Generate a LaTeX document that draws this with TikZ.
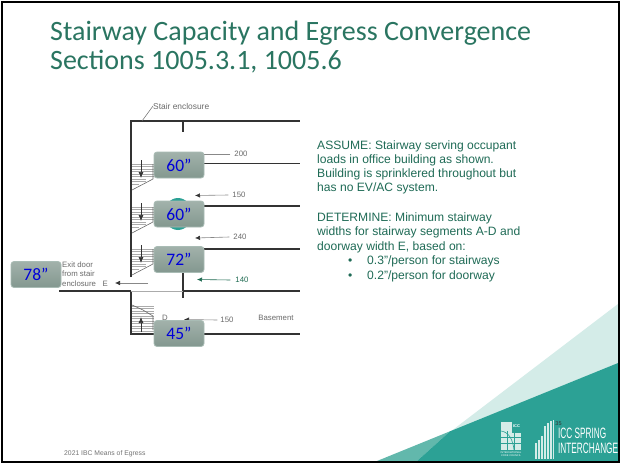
\documentclass[tikz,border=0pt]{standalone}
\usepackage{fontspec}
\setmainfont{Liberation Sans}
\newfontfamily\boxfont{Carlito}
\usetikzlibrary{arrows.meta}
\definecolor{titlegreen}{HTML}{2A7561}
\definecolor{bodygreen}{HTML}{1F6B56}
\definecolor{teal}{HTML}{2CA195}
\definecolor{midteal}{HTML}{62B8AC}
\definecolor{paleteal}{HTML}{D4ECE8}
\definecolor{boxgrey}{HTML}{83988F}
\definecolor{boxedge}{HTML}{A9BCB5}
\definecolor{wall}{HTML}{333333}
\definecolor{hatch}{HTML}{ABABAB}
\definecolor{lab}{HTML}{6A6A6A}
\definecolor{arrowgreen}{HTML}{1F6B52}
\tikzset{
  wallline/.style={draw=wall,line width=1.8pt},
  flowarrow/.style={draw=lab!80,line width=.6pt,-{Latex[length=5pt,width=4.5pt,color=wall]}},
  dimlabel/.style={font=\fontsize{7.8}{9}\selectfont,text=lab,inner sep=0pt},
  sizebox/.style={draw=boxedge,line width=.8pt,rounded corners=3pt,minimum width=50pt,minimum height=26pt,inner sep=0pt,
     top color=boxgrey!75!white,bottom color=boxgrey,text=blue!85!black,font=\boxfont\fontsize{17.5}{18}\selectfont},
  bodytext/.style={font=\fontsize{12.1}{14}\selectfont,text=bodygreen,inner sep=0pt,anchor=base west},
  titletext/.style={font=\boxfont\fontsize{28}{30}\selectfont,text=titlegreen,inner sep=0pt,anchor=base west},
  logotext/.style={text=white,inner sep=0pt,anchor=base west},
}
\newcommand{\stairdown}[1]{%
  \begin{scope}[yshift=-#1pt]
  \foreach \yy in {164,166.5,169,171.5,174,176.5,179,181.5,184}{
    \draw[hatch,line width=.5pt] (132,\yy) -- ({\yy<179?154:(\yy<182?146:139)},\yy);}
  \draw[lab,line width=.6pt] (132,190) -- (153,179) -- (153,164);
  \draw[wall,line width=.7pt,-{Latex[length=6pt,width=5pt]}] (141,160) -- (141,178);
  \end{scope}}
\begin{document}
\begin{tikzpicture}[x=1pt,y=-1pt]
\useasboundingbox (0,0) rectangle (621,466);
\fill[white] (0,0) rectangle (621,466);
% background wedges
\fill[paleteal] (450,432) -- (618,304) -- (618,363) -- cycle;
\fill[midteal] (377,461) -- (450,431.3) -- (417,461) -- cycle;
\fill[teal] (417,461) -- (450,431.3) -- (618,363) -- (618,461) -- cycle;
% frame
\draw[black,line width=2pt] (2,2) rectangle (619,462);
% title
\node[titletext] (t1) at (50,40) {Stairway Capacity and Egress Convergence};
\node[titletext] (t2) at (50,69) {Sections 1005.3.1, 1005.6};
% walls
\coordinate (wa) at (131,277); \coordinate (wb) at (131,121); \coordinate (wc) at (300,121);
\draw[wallline] (wa) -- (wb) -- (wc);
\coordinate (s1) at (183,121); \coordinate (s2) at (183,132);
\draw[wallline] (s1) -- (s2);
\draw[wallline] (204,163.5) -- (300,163.5);
\draw[wallline] (204,206) -- (300,206);
\draw[wallline] (204,249) -- (300,249);
\draw[wallline] (183,270) -- (183,298);
\draw[wallline] (183,291) -- (300,291);
\draw[wallline] (59,291) -- (131,291);
\draw[wallline] (131,291) -- (131,334) -- (154,334);
\draw[wallline] (204,334) -- (300,334);
\draw[draw=white,line width=2pt] (132,291) -- (182,291);
\draw[hatch,line width=.8pt] (131,291) -- (183,291);
% stairs
\stairdown{0}
\stairdown{43}
\stairdown{85}
\foreach \yy in {306,308.5,311,313.5,316,318.5,321,323.5,326,328.5,331}{\draw[hatch,line width=.5pt] (132,\yy) -- (154,\yy);}
\draw[lab,line width=.6pt] (132,305) -- (143,310) -- (153,316) -- (153,330);
\draw[wall,line width=.7pt,-{Latex[length=6pt,width=5pt]}] (141,332) -- (141,317);
% leader
\coordinate (la) at (142,121);
\node[dimlabel,anchor=west,font=\fontsize{8.4}{9}\selectfont] (senc) at (153,106) {Stair enclosure};
\draw[lab,line width=.5pt] (la) -- (senc.west);
% dimension arrows
\node[dimlabel] (n200) at (241,154) {200};
\node[dimlabel] (n150a) at (239,195) {150};
\node[dimlabel] (n240) at (240,237) {240};
\node[dimlabel,text=arrowgreen] (n140) at (242,280) {140};
\node[dimlabel] (n150b) at (227,320) {150};
\node[dimlabel] (nbase) at (276,318) {Basement};
\node[dimlabel] (nd) at (165,318) {D};
\node[dimlabel,anchor=west,align=left,font=\fontsize{7.8}{9.5}\selectfont] (nexit) at (62,274) {Exit door\\from stair\\enclosure\ \ \ E};
\coordinate (a200) at (200,154);
\coordinate (a150) at (195,195.5);
\coordinate (a240) at (195,238);
\coordinate (a140) at (197,279.5);
\coordinate (aE) at (115,283);
\coordinate (aEs) at (148,283);
\coordinate (a150b) at (184,319.5);
\draw[flowarrow,-] (n200.west)+(-4,0) -- (a200);
\draw[flowarrow] (n150a.west)+(-4,0) -- (a150);
\draw[flowarrow] (n240.west)+(-4,0) -- (a240);
\draw[flowarrow,draw=arrowgreen,-{Latex[length=5pt,width=4.5pt,color=arrowgreen]}] (n140.west)+(-5,0) -- (a140);
\draw[flowarrow] (aEs) -- (aE);
\draw[flowarrow] (n150b.west)+(-3,0) -- (a150b);
% size boxes
\fill[teal] (178,214) ellipse (14 and 16);
\node[sizebox] (b1) at (179,165) {60”};
\node[sizebox] (b2) at (179,214) {60”};
\node[sizebox] (b3) at (179,259.5) {72”};
\node[sizebox] (b4) at (36,274.5) {78”};
\node[sizebox] (b5) at (179,333.5) {45”};
% right text
\node[bodytext] (r1) at (317,149) {ASSUME: Stairway serving occupant};
\node[bodytext] (r2) at (317,163) {loads in office building as shown.};
\node[bodytext] (r3) at (317,177) {Building is sprinklered throughout but};
\node[bodytext] (r4) at (317,191.5) {has no EV/AC system.};
\node[bodytext] (r5) at (317,221) {DETERMINE: Minimum stairway};
\node[bodytext] (r6) at (317,235) {widths for stairway segments A-D and};
\node[bodytext] (r7) at (317,250) {doorway width E, based on:};
\node[bodytext] (r8) at (348,264) {•};
\node[bodytext] (r9) at (367,264) {0.3"/person for stairways};
\node[bodytext] (r10) at (348,279) {•};
\node[bodytext] (r11) at (367,279) {0.2"/person for doorway};
% footer
\node[inner sep=0pt,anchor=base west,text=black!55,font=\fontsize{6.8}{7}\selectfont] (foot) at (64,455) {2021 IBC Means of Egress};
% ICC logo
\fill[paleteal] (501,422) rectangle (521,450);
\fill[teal] (512,422) rectangle (521,433);
\node[inner sep=0pt,text=white,font=\bfseries\fontsize{4}{4}\selectfont] (icc) at (516.5,426.5) {ICC};
\draw[teal,line width=.6pt] (501,437) -- (521,437) (501,443) -- (521,443) (507,431) -- (507,450) (514,433) -- (514,450);
\draw[teal,line width=.6pt] (501,431) .. controls (509,432) and (513,440) .. (514,450);
\node[inner sep=0pt,text=white,align=center,font=\fontsize{2.6}{3}\selectfont] (icc2) at (511,454.5) {INTERNATIONAL\\CODE COUNCIL};
% building logo
\foreach \xx/\yt in {535/443,538/440,541/436,544/426,547/423,550/421,552.5/420}{
  \fill[paleteal] (\xx,\yt) rectangle ++(1.7,{459-\yt});}
% logo text
\node[logotext,font=\fontsize{15}{15}\selectfont,xscale=.55] (sp) at (558,438.5) {ICC SPRING};
\node[logotext,font=\fontsize{15}{15}\selectfont,xscale=.55] (ic) at (558,453.5) {INTERCHANGE};
\node[inner sep=0pt,text=black!80,font=\fontsize{5.5}{6}\selectfont] (pg) at (558.5,423.5) {35};
\end{tikzpicture}
\end{document}
